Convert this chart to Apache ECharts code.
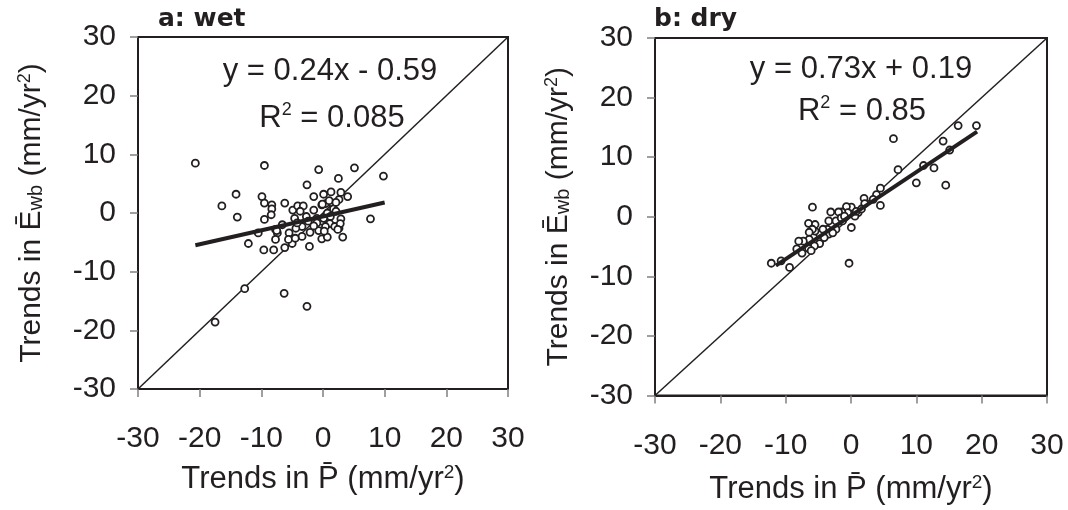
<!DOCTYPE html>
<html><head><meta charset="utf-8">
<script src="https://cdn.jsdelivr.net/npm/echarts@6/dist/echarts.min.js"></script>
<style>html,body{margin:0;padding:0;background:#fff}#c{width:1068px;height:510px}</style>
</head><body><div id="c"></div>
<script>
// ---- data ----
const axisTicks = [-30, -20, -10, 0, 10, 20, 30];
const wetX = [-20.7,-9.5,-0.7,5.1,9.8,-2.6,2.5,-14.1,-16.4,-13.9,-9.9,-9.5,-8.3,-8.3,-8.4,-9.5,-6.2,-1.5,0.1,1.3,2.9,4.0,2.6,-4.9,-4.1,-3.2,-3.7,-1.5,-0.2,0.4,1.5,1.7,2.1,0.7,-1.0,-2.7,-4.6,-2.4,-3.4,-4.4,-5.5,-7.7,-7.4,-7.7,-10.5,-12.1,-9.6,-8.0,-6.2,-5.0,-5.6,-3.4,-2.1,-2.2,-0.2,0.7,1.1,1.9,2.6,2.9,3.2,7.7,-0.2,0.4,1.2,-12.7,-17.5,-6.3,-2.6,0.1,-1.0,-4.2,-6.6,-7.5,-0.7,-1.5,1.0,2.1,-0.1,2.8,2.4,0.2,-4.5];
const wetY = [8.5,8.1,7.4,7.7,6.3,4.8,5.9,3.2,1.2,-0.7,2.8,1.7,1.4,0.7,-0.3,-1.1,1.7,2.8,3.2,3.6,3.5,2.8,2.3,0.5,1.2,1.2,0.3,0.5,1.4,1.6,1.7,0.7,0.3,0.0,-0.9,-0.6,-0.9,-1.4,-2.3,-2.6,-3.4,-2.8,-3.4,-4.5,-3.4,-5.2,-6.3,-6.3,-5.9,-5.2,-4.5,-4.0,-3.3,-5.7,-4.4,-4.1,-1.8,-2.3,-2.6,-1.0,-4.1,-1.0,-1.4,-2.3,-0.6,-12.9,-18.6,-13.7,-15.9,-0.9,-1.7,-1.7,-2.0,-3.0,-3.0,-2.2,2.1,1.8,1.5,-1.8,-2.8,-3.1,-4.3];
const dryX = [19.2,16.4,6.5,14.1,15.1,7.2,11.1,12.7,10.0,14.5,4.5,4.5,3.9,2.0,2.1,1.1,0.05,-0.7,-0.5,-1.4,-1.9,-3.1,-5.9,0.05,-0.3,-1.3,-2.3,-3.4,-3.6,-3.4,-4.8,-4.8,-5.5,-5.5,-6.5,-5.9,-6.4,-6.4,-5.6,-6.5,-6.1,-7.3,-8.0,-8.3,-7.5,-9.4,-10.7,-12.2,-2.3,-1.5,-1.0,0.6,0.8,1.6,3.4,-4.1,-2.8,-4.3];
const dryY = [15.3,15.3,13.1,12.7,11.2,7.9,8.6,8.2,5.7,5.3,4.8,1.9,3.7,3.1,2.2,0.7,1.6,1.7,0.7,0.8,0.8,0.8,1.6,-1.8,-7.8,-0.7,-2.1,-0.7,-2.1,-2.9,-2.9,-4.5,-2.4,-1.3,-1.1,-2.1,-2.6,-3.8,-4.9,-5.3,-5.7,-4.1,-4.1,-5.4,-6.1,-8.5,-7.4,-7.8,-0.7,-0.2,0.1,0.1,0.9,1.3,2.9,-3.5,-2.7,-2.1];
const oneToOneX = [-30, 30];
const oneToOneY = [-30, 30];
const wetFitX = [-20.7, 10.0];
const wetFitY = [-5.5, 1.8];
const dryFitX = [-11.5, 19.3];
const dryFitY = [-8.2, 14.3];
const panelTitles = ['a: wet', 'b: dry'];
const wetEq = 'y = 0.24x - 0.59';
const wetR2 = '0.085';
const dryEq = 'y = 0.73x + 0.19';
const dryR2 = '0.85';

// ---- chart ----
const INK = '#231f20';
const FONT = "'Liberation Sans', Arial, sans-serif";
const zip = (xs, ys) => xs.map((x, i) => [x, ys[i]]);

function richName(fs) {
  return {
    t: {fontSize: fs, fontFamily: FONT, color: INK, lineHeight: 36},
    s: {fontSize: Math.round(fs * 0.67), fontFamily: FONT, color: INK, lineHeight: 36, verticalAlign: 'bottom', padding: [0,0,4,0]},
    u: {fontSize: Math.round(fs * 0.6), fontFamily: FONT, color: INK, lineHeight: 36, verticalAlign: 'top', padding: [2,0,0,0]}
  };
}
const yName = '{t|Trends in \u0112}{s|wb}{t| (mm/yr}{u|2}{t|)}';
const xName = '{t|Trends in P\u0304 (mm/yr}{u|2}{t|)}';

function xAxisCfg(gi, gap) {
  return {
    gridIndex: gi, type: 'value', min: -30, max: 30, interval: 10,
    axisLine: {show: true, onZero: false, lineStyle: {color: INK, width: 2}},
    axisTick: {show: true, inside: false, length: 8, lineStyle: {color: '#808080', width: 1.5}},
    axisLabel: {fontSize: 30, fontFamily: FONT, color: INK, margin: 35},
    splitLine: {show: false},
    name: xName, nameLocation: 'middle', nameGap: gap,
    nameTextStyle: {rich: richName(31)}
  };
}
function yAxisCfg(gi, gap) {
  return {
    gridIndex: gi, type: 'value', min: -30, max: 30, interval: 10,
    axisLine: {show: true, onZero: false, lineStyle: {color: INK, width: 2}},
    axisTick: {show: true, inside: false, length: 8, lineStyle: {color: '#808080', width: 1.5}},
    axisLabel: {fontSize: 30, fontFamily: FONT, color: INK, margin: 22},
    splitLine: {show: false},
    name: yName, nameLocation: 'middle', nameGap: gap, nameRotate: 90,
    nameTextStyle: {rich: richName(30)}
  };
}
function scatter(gi, xs, ys) {
  return {type: 'scatter', xAxisIndex: gi, yAxisIndex: gi, data: zip(xs, ys),
    symbol: 'circle', symbolSize: 7, z: 3,
    itemStyle: {color: '#fff', borderColor: INK, borderWidth: 1.8, opacity: 1}};
}
function line(gi, xs, ys, w, z) {
  return {type: 'line', xAxisIndex: gi, yAxisIndex: gi, data: zip(xs, ys),
    showSymbol: false, symbol: 'none', z: z, silent: true,
    lineStyle: {color: INK, width: w}};
}
function eqText(x, y, str) {
  return {type: 'text', x: x, y: y, z: 10,
    style: {text: str, fontSize: 31, fontFamily: FONT, fill: INK, align: 'center', verticalAlign: 'middle'}};
}
function r2Text(x, y, val) {
  return {type: 'text', x: x, y: y, z: 10,
    style: {text: '{a|R}{u|2}{a| = ' + val + '}', align: 'center', verticalAlign: 'middle',
      rich: {a: {fontSize: 31, fontFamily: FONT, fill: INK, color: INK, lineHeight: 36},
             u: {fontSize: 18, fontFamily: FONT, fill: INK, color: INK, lineHeight: 36, verticalAlign: 'top', padding: [1,0,0,0]}}}};
}

const chart = echarts.init(document.getElementById('c'), null, {renderer: 'canvas'});
chart.setOption({
  animation: false,
  backgroundColor: '#fff',
  grid: [
    {left: 138, top: 37, width: 370, height: 352, show: true, borderColor: INK, borderWidth: 2, backgroundColor: 'transparent'},
    {left: 655, top: 38, width: 392, height: 359, show: true, borderColor: INK, borderWidth: 2, backgroundColor: 'transparent'}
  ],
  xAxis: [xAxisCfg(0, 72), xAxisCfg(1, 76)],
  yAxis: [yAxisCfg(0, 88), yAxisCfg(1, 78)],
  series: [
    line(0, oneToOneX, oneToOneY, 1.5, 2),
    line(0, wetFitX, wetFitY, 4, 4),
    scatter(0, wetX, wetY),
    line(1, oneToOneX, oneToOneY, 1.5, 2),
    line(1, dryFitX, dryFitY, 4, 4),
    scatter(1, dryX, dryY)
  ],
  graphic: [
    {type: 'text', x: 158, y: 19, style: {text: panelTitles[0], fontSize: 25, fontWeight: 'bold', fontFamily: "'DejaVu Sans'", fill: INK, verticalAlign: 'middle'}},
    {type: 'text', x: 654, y: 19, style: {text: panelTitles[1], fontSize: 25, fontWeight: 'bold', fontFamily: "'DejaVu Sans'", fill: INK, verticalAlign: 'middle'}},
    eqText(330, 71, wetEq),
    r2Text(332, 118, wetR2),
    eqText(861, 69, dryEq),
    r2Text(862, 111, dryR2)
  ]
});
</script></body></html>
